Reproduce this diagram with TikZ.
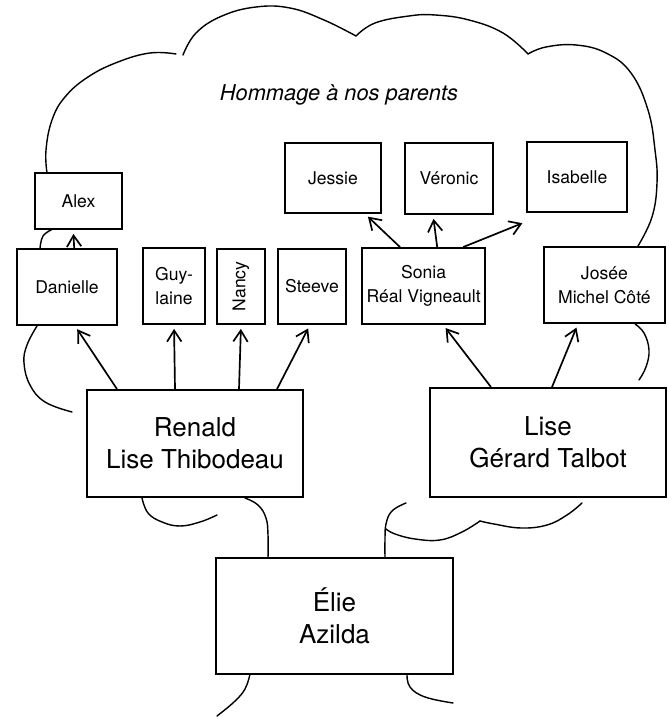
\documentclass[tikz,border=0pt]{standalone}
\usepackage{fontspec}
\setmainfont{TeX Gyre Heros}
\usetikzlibrary{arrows.meta}
\begin{document}
\begin{tikzpicture}[
    box/.style={draw, line width=1.3pt, fill=white, inner sep=0pt, align=center,
      font=\fontsize{12.5}{17}\selectfont},
    bigbox/.style={box, font=\fontsize{18.5}{23}\selectfont},
    arr/.style={line width=1.2pt, -{Straight Barb[length=2.8mm, width=3.6mm]},
      shorten >=0.1cm},
    crown/.style={line width=1pt, line cap=round}
  ]
    \useasboundingbox (0,0) rectangle (16.7,17.925);
    \draw[crown] plot[smooth, tension=0.7] coordinates {(0.925,9.775) (0.675,9.3)
      (0.6,8.85) (0.75,8.3) (1.125,7.875) (1.8,7.625)};
    \draw[crown] plot[smooth, tension=0.7] coordinates {(1.0,11.7) (1.075,12.025)
      (1.325,12.2)};
    \draw[crown] plot[smooth, tension=0.7] coordinates {(1.175,13.6) (1.15,14.175)
      (1.3,14.925) (1.625,15.5) (2.2,16.0) (2.95,16.375) (3.75,16.6) (4.4,16.575)};
    \draw[crown] plot[smooth, tension=0.7] coordinates {(4.575,16.55) (4.9,17.1)
      (5.55,17.525) (6.4,17.75) (7.25,17.725) (8.1,17.425) (8.9,17.025)};
    \draw[crown] plot[smooth, tension=0.7] coordinates {(8.9,17.025) (9.375,17.35)
      (10.225,17.525) (10.875,17.55) (11.725,17.425) (12.575,17.1) (13.2,16.575)};
    \draw[crown] plot[smooth, tension=0.7] coordinates {(13.2,16.575) (13.65,16.75)
      (14.4,16.8) (15.15,16.6) (15.775,16.1) (16.2,15.175) (16.375,14.175)
      (16.425,13.35) (16.3,12.5) (15.95,11.775)};
    \draw[crown] plot[smooth, tension=0.7] coordinates {(15.875,9.825) (16.1,9.6)
      (16.225,9.175) (16.15,8.75) (15.975,8.425)};
    \draw[crown] plot[smooth, tension=0.7] coordinates {(14.55,5.35) (14.175,5.05)
      (13.675,4.8) (13.025,4.725) (12.35,4.825) (12.0,4.9)};
    \draw[crown] plot[smooth, tension=0.7] coordinates {(12.0,4.9) (11.55,4.625)
      (11.0,4.425) (10.375,4.45) (9.875,4.575) (9.65,4.7)};
    \draw[crown] plot[smooth, tension=0.7] coordinates {(10.15,5.35) (9.8,5.15)
      (9.65,4.825) (9.625,4.425) (9.625,3.975)};
    \draw[crown] plot[smooth, tension=0.7] coordinates {(3.55,5.475) (3.7,5.1)
      (4.05,4.875) (4.5,4.775) (5.0,4.875) (5.425,5.05)};
    \draw[crown] plot[smooth, tension=0.7] coordinates {(6.125,5.475) (6.45,5.3)
      (6.65,4.975) (6.7,4.55) (6.7,3.975)};
    \draw[crown] plot[smooth, tension=0.7] coordinates {(6.25,1.075) (6.125,0.7)
      (5.85,0.375) (5.425,0.025)};
    \draw[crown] plot[smooth, tension=0.7] coordinates {(10.175,1.075) (10.25,0.75)
      (10.625,0.5) (11.325,0.35)};

    \node[font=\fontsize{15.5}{18}\selectfont\itshape] (titre) at (8.475,15.55)
      {Hommage à nos parents};

    \node[box, minimum width=2.4cm, minimum height=1.75cm] (jessie) at (8.325,13.475) {Jessie};
    \node[box, minimum width=2.2cm, minimum height=1.775cm] (veronic) at (11.225,13.463) {Véronic};
    \node[box, minimum width=2.5cm, minimum height=1.75cm] (isabelle) at (14.425,13.5) {Isabelle};
    \node[box, minimum width=2.175cm, minimum height=1.4cm] (alex) at (1.96,12.9) {Alex};

    \node[box, minimum width=2.5cm, minimum height=1.9cm] (danielle) at (1.675,10.75) {Danielle};
    \node[box, minimum width=1.55cm, minimum height=1.9cm] (guylaine) at (4.35,10.775) {Guy-\\laine};
    \node[box, minimum width=1.2cm, minimum height=1.875cm] (nancy) at (6.025,10.763)
      {\rotatebox{90}{Nancy}};
    \node[box, minimum width=1.7cm, minimum height=1.875cm] (steeve) at (7.8,10.763) {Steeve};
    \node[box, minimum width=3.075cm, minimum height=1.9cm] (sonia) at (10.59,10.775)
      {Sonia\\Réal Vigneault};
    \node[box, minimum width=3.025cm, minimum height=1.9cm] (josee) at (15.11,10.8)
      {Josée\\Michel Côté};

    \node[bigbox, minimum width=5.4cm, minimum height=2.675cm] (renald) at (4.875,6.838)
      {Renald\\Lise Thibodeau};
    \node[bigbox, minimum width=5.9cm, minimum height=2.725cm] (lise) at (13.7,6.863)
      {Lise\\Gérard Talbot};
    \node[bigbox, minimum width=5.925cm, minimum height=2.9cm] (elie) at (8.363,2.525)
      {Élie\\Azilda};

    \draw[arr] ([xshift=0.18cm]danielle.north) -- ([xshift=-0.13cm]alex.south);
    \draw[arr] ([xshift=-1.95cm]renald.north) -- ([xshift=0.2cm]danielle.south);
    \draw[arr] ([xshift=-0.5cm]renald.north) -- (guylaine.south);
    \draw[arr] ([xshift=1.1cm]renald.north) -- (nancy.south);
    \draw[arr] ([xshift=2.05cm]renald.north) -- ([xshift=-0.05cm]steeve.south);
    \draw[arr] ([xshift=-1.425cm]lise.north) -- ([xshift=0.49cm]sonia.south);
    \draw[arr] ([xshift=0.1cm]lise.north) -- ([xshift=-0.66cm]josee.south);
    \draw[arr] ([xshift=-0.59cm]sonia.north) -- ([xshift=0.8cm]jessie.south);
    \draw[arr] ([xshift=0.34cm]sonia.north) -- ([xshift=-0.4cm]veronic.south);
    \draw[arr] ([xshift=0.99cm]sonia.north) -- ([yshift=-0.22cm]isabelle.south west);
  \end{tikzpicture}
\end{document}
